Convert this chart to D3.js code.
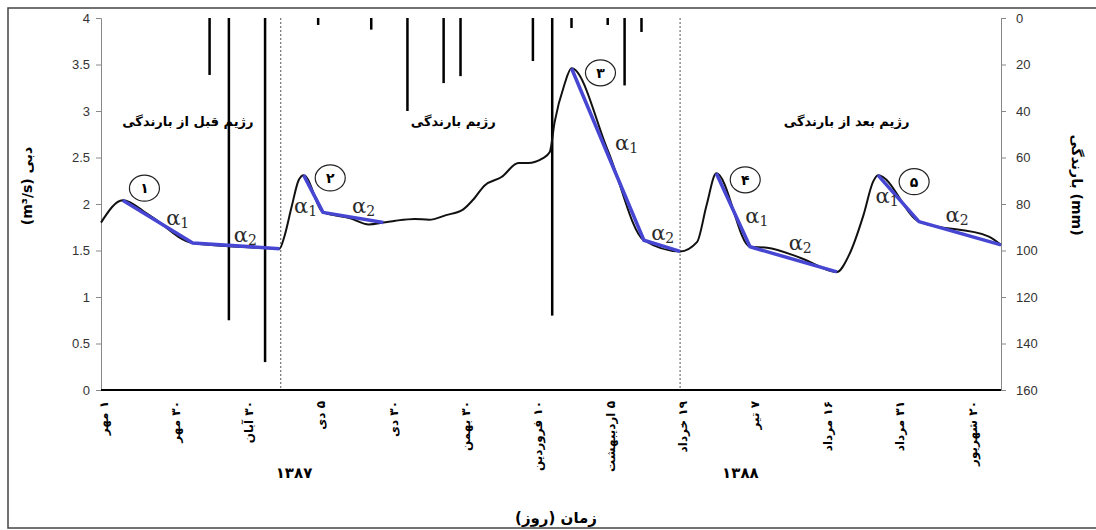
<!DOCTYPE html>
<html>
<head>
<meta charset="utf-8">
<script src="https://cdn.jsdelivr.net/npm/d3@7"></script>
<style>
  body { margin: 0; background: #fff; }
  svg { display: block; font-family: "DejaVu Sans", sans-serif; }
</style>
</head>
<body>
<div id="chart"></div>
<script>
// ---- data ----
const tickDays = [0, 30, 60, 90, 120, 150, 180, 210, 240, 270, 300, 330, 360];
const tickLabels = ["۱ مهر", "۳۰ مهر", "۳۰ آبان", "۵ دی", "۳۰ دی", "۳۰ بهمن", "۱۰ فروردین",
  "۵ اردیبهشت", "۱۹ خرداد", "۷ تیر", "۱۶ مرداد", "۳۱ مرداد", "۲۰ شهریور"];

const flowDays = [0, 9, 20, 38, 58, 74, 76, 79, 82, 84, 92, 103, 111, 117, 122, 130, 136, 143, 150,
  154, 159, 166, 173, 177, 183, 186, 188, 192, 195, 210, 225, 240, 247, 251, 255, 269, 276, 290,
  305, 310, 316, 320, 322, 339, 368, 373];
const flowValues = [1.80, 2.04, 1.88, 1.58, 1.54, 1.52, 1.65, 1.97, 2.26, 2.31, 1.91, 1.85, 1.78,
  1.80, 1.82, 1.84, 1.83, 1.88, 1.94, 2.04, 2.20, 2.29, 2.44, 2.44, 2.49, 2.56, 2.88, 3.28, 3.46,
  2.58, 1.61, 1.49, 1.59, 1.99, 2.33, 1.54, 1.53, 1.42, 1.27, 1.45, 1.88, 2.24, 2.31, 1.81, 1.65, 1.56];

const rainDays = [45, 53, 68, 90, 112, 127, 142, 149, 179, 187, 195, 210, 217, 224];
const rainValues = [24.5, 130, 148, 3, 5, 40, 28, 25, 18.5, 128, 4.3, 3, 29, 6];

// recession fits (alpha1 then alpha2), one per event
const recessionDays = [[9, 38, 74], [84, 92, 117], [195, 225, 240], [255, 269, 305], [322, 339, 373]];
const recessionValues = [[2.04, 1.58, 1.52], [2.31, 1.91, 1.80], [3.46, 1.61, 1.49],
  [2.33, 1.54, 1.27], [2.31, 1.81, 1.56]];

const eventLabels = ["۱", "۲", "۳", "۴", "۵"];
const eventDays = [18, 95, 207, 267, 337];
const eventFlows = [2.17, 2.28, 3.41, 2.26, 2.24];

const alphaSubs = ["1", "2", "1", "2", "1", "2", "1", "2", "1", "2"];
const alphaDays = [27, 55, 80, 104, 213, 228, 267, 285, 321, 350];
const alphaFlows = [1.77, 1.59, 1.90, 1.90, 2.58, 1.61, 1.80, 1.51, 2.01, 1.81];

const regimeLabels = ["رژیم  قبل از بارندگی", "رژیم بارندگی", "رژیم  بعد از بارندگی"];
const regimeDays = [36, 146, 309];
const regimeBreaks = [74.5, 240];

const yearLabels = ["۱۳۸۷", "۱۳۸۸"];
const yearDays = [80, 265];

// ---- layout ----
const width = 1096, height = 530;
const margin = { left: 101, right: 96, top: 18, bottom: 140 };

const svg = d3.select("#chart").append("svg")
  .attr("width", width)
  .attr("height", height);

// outer frame
svg.append("rect")
  .attr("x", 8).attr("y", 8)
  .attr("width", width + 10).attr("height", 520)
  .attr("fill", "none")
  .attr("stroke", "#444")
  .attr("stroke-width", 1.5);

const x = d3.scaleLinear().domain([0, 373]).range([margin.left, width - margin.right + 1]);
const y = d3.scaleLinear().domain([0, 4]).range([height - margin.bottom, margin.top]);
const yRain = d3.scaleLinear().domain([0, 160]).range([margin.top, height - margin.bottom]);

// =========================
// AXES
// =========================
const leftAxis = svg.append("g")
  .attr("transform", `translate(${margin.left},0)`)
  .call(d3.axisLeft(y).tickValues(d3.range(0, 4.01, 0.5)).tickSize(5).tickPadding(6)
    .tickFormat(d => d3.format("~g")(d)));
leftAxis.select(".domain").attr("stroke", "#888");
leftAxis.selectAll(".tick line").attr("stroke", "#888");
leftAxis.selectAll("text").attr("font-size", 13).attr("fill", "#333");

const rightAxis = svg.append("g")
  .attr("transform", `translate(${width - margin.right + 1},0)`)
  .call(d3.axisRight(yRain).tickValues(d3.range(0, 161, 20)).tickSize(5).tickPadding(10));
rightAxis.select(".domain").attr("stroke", "#888");
rightAxis.selectAll(".tick line").attr("stroke", "#888");
rightAxis.selectAll("text").attr("font-size", 13).attr("fill", "#333");

// =========================
// RAIN BARS (hanging from top)
// =========================
svg.append("g").selectAll("rect")
  .data(rainDays.map((d, i) => ({ day: d, v: rainValues[i] })))
  .join("rect")
  .attr("x", d => x(d.day) - 1.25)
  .attr("y", yRain(0))
  .attr("width", 2.5)
  .attr("height", d => yRain(d.v) - yRain(0))
  .attr("fill", "#000");

// regime break lines
svg.append("g").selectAll("line")
  .data(regimeBreaks)
  .join("line")
  .attr("x1", d => x(d)).attr("x2", d => x(d))
  .attr("y1", y(4)).attr("y2", y(0))
  .attr("stroke", "#555")
  .attr("stroke-width", 1)
  .attr("stroke-dasharray", "2,2");

// x axis line
svg.append("line")
  .attr("x1", x(0)).attr("x2", x(373))
  .attr("y1", y(0)).attr("y2", y(0))
  .attr("stroke", "#000")
  .attr("stroke-width", 2);

// =========================
// HYDROGRAPH + RECESSION FITS
// =========================
const flow = flowDays.map((d, i) => [d, flowValues[i]]);
const line = d3.line().x(d => x(d[0])).y(d => y(d[1]));

svg.append("path")
  .datum(flow)
  .attr("fill", "none")
  .attr("stroke", "#111")
  .attr("stroke-width", 2)
  .attr("d", line.curve(d3.curveMonotoneX));

const straight = d3.line().x(d => x(d[0])).y(d => y(d[1]));
svg.append("g").selectAll("path")
  .data(recessionDays.map((ds, i) => ds.map((d, j) => [d, recessionValues[i][j]])))
  .join("path")
  .attr("fill", "none")
  .attr("stroke", "#4646d2")
  .attr("stroke-width", 3.5)
  .attr("stroke-linejoin", "round")
  .attr("d", straight);

// =========================
// ANNOTATIONS
// =========================
const alpha = svg.append("g").selectAll("text")
  .data(alphaSubs.map((s, i) => ({ s, day: alphaDays[i], f: alphaFlows[i] })))
  .join("text")
  .attr("x", d => x(d.day))
  .attr("y", d => y(d.f))
  .attr("font-family", "'DejaVu Serif', serif")
  .attr("font-size", 21)
  .attr("fill", "#2a2a2a");
alpha.append("tspan").text("α");
alpha.append("tspan").attr("font-size", 14).attr("dy", 3).text(d => d.s);

const ev = svg.append("g").selectAll("g")
  .data(eventLabels.map((t, i) => ({ t, day: eventDays[i], f: eventFlows[i] })))
  .join("g")
  .attr("transform", d => `translate(${x(d.day)},${y(d.f)})`);
ev.append("ellipse").attr("rx", 15).attr("ry", 13)
  .attr("fill", "#fff").attr("stroke", "#222").attr("stroke-width", 1.2);
ev.append("text").attr("text-anchor", "middle").attr("dy", "0.36em")
  .attr("font-size", 14).attr("font-weight", "bold").text(d => d.t);

svg.append("g").selectAll("text")
  .data(regimeLabels.map((t, i) => ({ t, day: regimeDays[i] })))
  .join("text")
  .attr("x", d => x(d.day))
  .attr("y", 126)
  .attr("text-anchor", "middle")
  .attr("direction", "rtl")
  .attr("font-size", 13)
  .attr("font-weight", "bold")
  .text(d => d.t);

// x tick labels, rotated (right-to-left text, its start at the top)
svg.append("g").selectAll("text")
  .data(tickDays.map((d, i) => ({ day: d, t: tickLabels[i] })))
  .join("text")
  .attr("transform", d => `translate(${x(d.day) + 3},401) rotate(-90)`)
  .attr("direction", "rtl")
  .attr("text-anchor", "start")
  .attr("dominant-baseline", "central")
  .attr("font-size", 12)
  .attr("font-weight", "bold")
  .text(d => d.t);

svg.append("g").selectAll("text")
  .data(yearLabels.map((t, i) => ({ t, day: yearDays[i] })))
  .join("text")
  .attr("x", d => x(d.day))
  .attr("y", 478)
  .attr("text-anchor", "middle")
  .attr("font-size", 15)
  .attr("font-weight", "bold")
  .text(d => d.t);

// axis titles
svg.append("text")
  .attr("x", 556).attr("y", 523)
  .attr("text-anchor", "middle")
  .attr("direction", "rtl")
  .attr("font-size", 15).attr("font-weight", "bold")
  .text("زمان (روز)");

svg.append("text")
  .attr("transform", "translate(27,186) rotate(-90)")
  .attr("text-anchor", "middle")
  .attr("dominant-baseline", "central")
  .attr("font-size", 14).attr("font-weight", "bold")
  .text("(m³/s) دبی");

svg.append("text")
  .attr("transform", "translate(1077,185) rotate(90)")
  .attr("text-anchor", "middle")
  .attr("dominant-baseline", "central")
  .attr("font-size", 14).attr("font-weight", "bold")
  .text("بارندگی (mm)");
</script>
</body>
</html>
